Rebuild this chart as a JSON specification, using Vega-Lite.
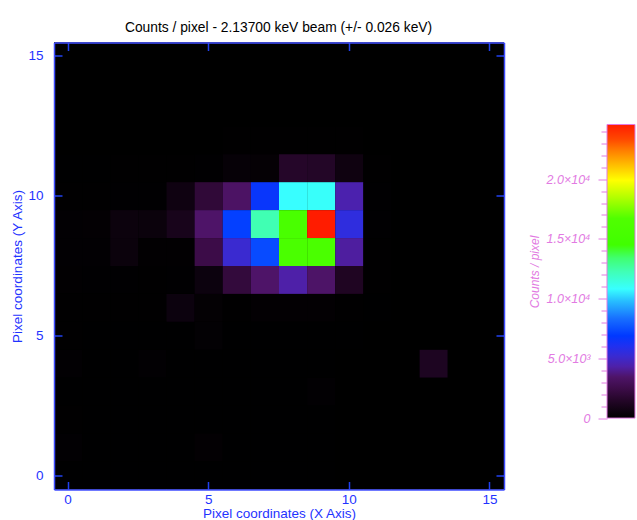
{
  "$schema": "https://vega.github.io/schema/vega-lite/v6.json",
  "background": "white",
  "padding": {"left": 10, "top": 20.5, "right": 2, "bottom": 0},
  "title": {"text": "Counts / pixel - 2.13700 keV beam (+/- 0.026 keV)", "font": "Liberation Sans", "fontSize": 13.8, "fontWeight": "normal", "color": "#000000", "anchor": "start", "dx": 114, "offset": 7},
  "spacing": 23,
  "datasets": {
    "cells": [
      {"x":0,"y":15,"v":0},{"x":1,"y":15,"v":0},{"x":2,"y":15,"v":0},{"x":3,"y":15,"v":0},{"x":4,"y":15,"v":0},{"x":5,"y":15,"v":0},{"x":6,"y":15,"v":0},{"x":7,"y":15,"v":0},{"x":8,"y":15,"v":0},{"x":9,"y":15,"v":0},{"x":10,"y":15,"v":0},{"x":11,"y":15,"v":0},{"x":12,"y":15,"v":0},{"x":13,"y":15,"v":0},{"x":14,"y":15,"v":0},{"x":15,"y":15,"v":0},
      {"x":0,"y":14,"v":0},{"x":1,"y":14,"v":0},{"x":2,"y":14,"v":0},{"x":3,"y":14,"v":0},{"x":4,"y":14,"v":0},{"x":5,"y":14,"v":0},{"x":6,"y":14,"v":0},{"x":7,"y":14,"v":0},{"x":8,"y":14,"v":0},{"x":9,"y":14,"v":0},{"x":10,"y":14,"v":0},{"x":11,"y":14,"v":0},{"x":12,"y":14,"v":0},{"x":13,"y":14,"v":0},{"x":14,"y":14,"v":0},{"x":15,"y":14,"v":0},
      {"x":0,"y":13,"v":0},{"x":1,"y":13,"v":0},{"x":2,"y":13,"v":0},{"x":3,"y":13,"v":0},{"x":4,"y":13,"v":0},{"x":5,"y":13,"v":0},{"x":6,"y":13,"v":0},{"x":7,"y":13,"v":0},{"x":8,"y":13,"v":0},{"x":9,"y":13,"v":0},{"x":10,"y":13,"v":0},{"x":11,"y":13,"v":0},{"x":12,"y":13,"v":0},{"x":13,"y":13,"v":0},{"x":14,"y":13,"v":0},{"x":15,"y":13,"v":0},
      {"x":0,"y":12,"v":0},{"x":1,"y":12,"v":0},{"x":2,"y":12,"v":0},{"x":3,"y":12,"v":0},{"x":4,"y":12,"v":0},{"x":5,"y":12,"v":0},{"x":6,"y":12,"v":30},{"x":7,"y":12,"v":30},{"x":8,"y":12,"v":40},{"x":9,"y":12,"v":40},{"x":10,"y":12,"v":30},{"x":11,"y":12,"v":0},{"x":12,"y":12,"v":0},{"x":13,"y":12,"v":0},{"x":14,"y":12,"v":0},{"x":15,"y":12,"v":0},
      {"x":0,"y":11,"v":20},{"x":1,"y":11,"v":20},{"x":2,"y":11,"v":30},{"x":3,"y":11,"v":30},{"x":4,"y":11,"v":40},{"x":5,"y":11,"v":60},{"x":6,"y":11,"v":250},{"x":7,"y":11,"v":200},{"x":8,"y":11,"v":1500},{"x":9,"y":11,"v":1450},{"x":10,"y":11,"v":600},{"x":11,"y":11,"v":30},{"x":12,"y":11,"v":0},{"x":13,"y":11,"v":0},{"x":14,"y":11,"v":0},{"x":15,"y":11,"v":0},
      {"x":0,"y":10,"v":40},{"x":1,"y":10,"v":40},{"x":2,"y":10,"v":60},{"x":3,"y":10,"v":60},{"x":4,"y":10,"v":610},{"x":5,"y":10,"v":1970},{"x":6,"y":10,"v":3320},{"x":7,"y":10,"v":6630},{"x":8,"y":10,"v":10800},{"x":9,"y":10,"v":10900},{"x":10,"y":10,"v":4420},{"x":11,"y":10,"v":60},{"x":12,"y":10,"v":0},{"x":13,"y":10,"v":0},{"x":14,"y":10,"v":0},{"x":15,"y":10,"v":0},
      {"x":0,"y":9,"v":100},{"x":1,"y":9,"v":110},{"x":2,"y":9,"v":480},{"x":3,"y":9,"v":450},{"x":4,"y":9,"v":1000},{"x":5,"y":9,"v":3440},{"x":6,"y":9,"v":7100},{"x":7,"y":9,"v":12300},{"x":8,"y":9,"v":15800},{"x":9,"y":9,"v":24570},{"x":10,"y":9,"v":5530},{"x":11,"y":9,"v":60},{"x":12,"y":9,"v":0},{"x":13,"y":9,"v":0},{"x":14,"y":9,"v":0},{"x":15,"y":9,"v":0},
      {"x":0,"y":8,"v":100},{"x":1,"y":8,"v":100},{"x":2,"y":8,"v":450},{"x":3,"y":8,"v":80},{"x":4,"y":8,"v":80},{"x":5,"y":8,"v":2460},{"x":6,"y":8,"v":5160},{"x":7,"y":8,"v":7370},{"x":8,"y":8,"v":15900},{"x":9,"y":8,"v":15850},{"x":10,"y":8,"v":4180},{"x":11,"y":8,"v":50},{"x":12,"y":8,"v":0},{"x":13,"y":8,"v":0},{"x":14,"y":8,"v":0},{"x":15,"y":8,"v":0},
      {"x":0,"y":7,"v":70},{"x":1,"y":7,"v":60},{"x":2,"y":7,"v":60},{"x":3,"y":7,"v":50},{"x":4,"y":7,"v":60},{"x":5,"y":7,"v":500},{"x":6,"y":7,"v":2090},{"x":7,"y":7,"v":3440},{"x":8,"y":7,"v":4300},{"x":9,"y":7,"v":3400},{"x":10,"y":7,"v":1250},{"x":11,"y":7,"v":40},{"x":12,"y":7,"v":0},{"x":13,"y":7,"v":0},{"x":14,"y":7,"v":0},{"x":15,"y":7,"v":0},
      {"x":0,"y":6,"v":30},{"x":1,"y":6,"v":30},{"x":2,"y":6,"v":30},{"x":3,"y":6,"v":30},{"x":4,"y":6,"v":500},{"x":5,"y":6,"v":150},{"x":6,"y":6,"v":40},{"x":7,"y":6,"v":120},{"x":8,"y":6,"v":120},{"x":9,"y":6,"v":120},{"x":10,"y":6,"v":40},{"x":11,"y":6,"v":20},{"x":12,"y":6,"v":0},{"x":13,"y":6,"v":0},{"x":14,"y":6,"v":0},{"x":15,"y":6,"v":0},
      {"x":0,"y":5,"v":30},{"x":1,"y":5,"v":20},{"x":2,"y":5,"v":20},{"x":3,"y":5,"v":20},{"x":4,"y":5,"v":20},{"x":5,"y":5,"v":130},{"x":6,"y":5,"v":20},{"x":7,"y":5,"v":20},{"x":8,"y":5,"v":20},{"x":9,"y":5,"v":20},{"x":10,"y":5,"v":20},{"x":11,"y":5,"v":0},{"x":12,"y":5,"v":0},{"x":13,"y":5,"v":0},{"x":14,"y":5,"v":0},{"x":15,"y":5,"v":0},
      {"x":0,"y":4,"v":100},{"x":1,"y":4,"v":20},{"x":2,"y":4,"v":20},{"x":3,"y":4,"v":100},{"x":4,"y":4,"v":20},{"x":5,"y":4,"v":20},{"x":6,"y":4,"v":20},{"x":7,"y":4,"v":20},{"x":8,"y":4,"v":20},{"x":9,"y":4,"v":20},{"x":10,"y":4,"v":0},{"x":11,"y":4,"v":0},{"x":12,"y":4,"v":0},{"x":13,"y":4,"v":1200},{"x":14,"y":4,"v":0},{"x":15,"y":4,"v":0},
      {"x":0,"y":3,"v":20},{"x":1,"y":3,"v":20},{"x":2,"y":3,"v":20},{"x":3,"y":3,"v":20},{"x":4,"y":3,"v":20},{"x":5,"y":3,"v":20},{"x":6,"y":3,"v":20},{"x":7,"y":3,"v":20},{"x":8,"y":3,"v":20},{"x":9,"y":3,"v":100},{"x":10,"y":3,"v":0},{"x":11,"y":3,"v":0},{"x":12,"y":3,"v":0},{"x":13,"y":3,"v":0},{"x":14,"y":3,"v":0},{"x":15,"y":3,"v":0},
      {"x":0,"y":2,"v":30},{"x":1,"y":2,"v":20},{"x":2,"y":2,"v":20},{"x":3,"y":2,"v":20},{"x":4,"y":2,"v":20},{"x":5,"y":2,"v":20},{"x":6,"y":2,"v":20},{"x":7,"y":2,"v":20},{"x":8,"y":2,"v":20},{"x":9,"y":2,"v":20},{"x":10,"y":2,"v":0},{"x":11,"y":2,"v":0},{"x":12,"y":2,"v":0},{"x":13,"y":2,"v":0},{"x":14,"y":2,"v":0},{"x":15,"y":2,"v":0},
      {"x":0,"y":1,"v":100},{"x":1,"y":1,"v":20},{"x":2,"y":1,"v":20},{"x":3,"y":1,"v":20},{"x":4,"y":1,"v":20},{"x":5,"y":1,"v":120},{"x":6,"y":1,"v":20},{"x":7,"y":1,"v":20},{"x":8,"y":1,"v":20},{"x":9,"y":1,"v":20},{"x":10,"y":1,"v":0},{"x":11,"y":1,"v":0},{"x":12,"y":1,"v":0},{"x":13,"y":1,"v":0},{"x":14,"y":1,"v":0},{"x":15,"y":1,"v":0},
      {"x":0,"y":0,"v":20},{"x":1,"y":0,"v":20},{"x":2,"y":0,"v":20},{"x":3,"y":0,"v":20},{"x":4,"y":0,"v":20},{"x":5,"y":0,"v":20},{"x":6,"y":0,"v":20},{"x":7,"y":0,"v":20},{"x":8,"y":0,"v":20},{"x":9,"y":0,"v":20},{"x":10,"y":0,"v":0},{"x":11,"y":0,"v":0},{"x":12,"y":0,"v":0},{"x":13,"y":0,"v":0},{"x":14,"y":0,"v":0},{"x":15,"y":0,"v":0}
    ],
    "bar": [{"lo": 0, "hi": 24570}]
  },
  "hconcat": [
    {
      "width": 450,
      "height": 447,
      "view": {"fill": "#000000", "stroke": null},
      "data": {"name": "cells"},
      "layer": [
        {
          "mark": {"type": "rect"},
          "encoding": {
            "x": {"field": "x", "type": "ordinal",
              "scale": {"domain": [0,1,2,3,4,5,6,7,8,9,10,11,12,13,14,15], "paddingInner": 0, "paddingOuter": 0},
              "axis": {"orient": "bottom", "zindex": 2, "values": [0,5,10,15], "title": "Pixel coordinates (X Axis)", "labelPadding": 11, "titlePadding": 0.5}},
            "y": {"field": "y", "type": "ordinal",
              "scale": {"domain": [15,14,13,12,11,10,9,8,7,6,5,4,3,2,1,0], "paddingInner": 0, "paddingOuter": 0},
              "axis": {"orient": "left", "zindex": 2, "values": [0,5,10,15], "title": "Pixel coordinates (Y Axis)", "labelPadding": 19, "titlePadding": 3}},
            "color": {"field": "v", "type": "quantitative",
              "scale": {"domain": [0,1474,2457,3440,4300,5160,6020,6880,8354,9828,10811,12285,13391,14496,16708,18428,19902,21130,22359,23342,24570],
                        "range": ["#000000","#240628","#3c0c48","#4e1468","#4e20a8","#3a2ad0","#2030f0","#0038ff","#1870ff","#28c0ff","#38ffff","#40ffb4","#40ff70","#40ff00","#50ff00","#b0ff00","#ffff00","#ffc000","#ff8000","#ff4800","#ff1c00"],
                        "interpolate": "rgb"},
              "legend": null}
          }
        },
        {
          "mark": {"type": "rect", "opacity": 0},
          "encoding": {
            "x": {"field": "x", "type": "ordinal",
              "scale": {"domain": [0,1,2,3,4,5,6,7,8,9,10,11,12,13,14,15], "paddingInner": 0, "paddingOuter": 0},
              "axis": {"orient": "top", "zindex": 2, "values": [0,5,10,15], "labels": false, "title": null}},
            "y": {"field": "y", "type": "ordinal",
              "scale": {"domain": [15,14,13,12,11,10,9,8,7,6,5,4,3,2,1,0], "paddingInner": 0, "paddingOuter": 0},
              "axis": {"orient": "right", "zindex": 2, "values": [0,5,10,15], "labels": false, "title": null}}
          }
        }
      ],
      "resolve": {"axis": {"x": "independent", "y": "independent"}}
    },
    {
      "width": 28,
      "height": 447,
      "view": {"stroke": null},
      "data": {"name": "bar"},
      "mark": {"type": "rect", "stroke": "#e27ae2", "strokeWidth": 1,
        "fill": {"gradient": "linear", "x1": 0, "y1": 1, "x2": 0, "y2": 0,
          "stops": [
            {"offset": 0, "color": "#000000"},
            {"offset": 0.06, "color": "#240628"},
            {"offset": 0.10, "color": "#3c0c48"},
            {"offset": 0.14, "color": "#4e1468"},
            {"offset": 0.175, "color": "#4e20a8"},
            {"offset": 0.21, "color": "#3a2ad0"},
            {"offset": 0.245, "color": "#2030f0"},
            {"offset": 0.28, "color": "#0038ff"},
            {"offset": 0.34, "color": "#1870ff"},
            {"offset": 0.40, "color": "#28c0ff"},
            {"offset": 0.44, "color": "#38ffff"},
            {"offset": 0.50, "color": "#40ffb4"},
            {"offset": 0.545, "color": "#40ff70"},
            {"offset": 0.59, "color": "#40ff00"},
            {"offset": 0.68, "color": "#50ff00"},
            {"offset": 0.75, "color": "#b0ff00"},
            {"offset": 0.81, "color": "#ffff00"},
            {"offset": 0.86, "color": "#ffc000"},
            {"offset": 0.91, "color": "#ff8000"},
            {"offset": 0.95, "color": "#ff4800"},
            {"offset": 1, "color": "#ff1c00"}
          ]}},
      "encoding": {
        "y": {"field": "lo", "type": "quantitative",
          "scale": {"domain": [-5975, 31432], "nice": false, "zero": false},
          "axis": {
            "orient": "left",
            "values": [0,1000,2000,3000,4000,5000,6000,7000,8000,9000,10000,11000,12000,13000,14000,15000,16000,17000,18000,19000,20000,21000,22000,23000,24000],
            "labelExpr": "datum.value == 0 ? '0' : datum.value == 5000 ? '5.0×10³' : datum.value % 5000 == 0 ? format(datum.value / 10000, '.1f') + '×10⁴' : ''",
            "labelOverlap": false,
            "labelBound": false,
            "labelFlush": false,
            "domain": false,
            "ticks": true,
            "tickSize": {"condition": {"test": "datum.value % 5000 === 0", "value": 9}, "value": 6},
            "tickColor": "#e27ae2",
            "tickWidth": 1,
            "labelColor": "#e27ae2",
            "labelFontStyle": "italic",
            "labelFontSize": 12.5,
            "labelPadding": 8,
            "title": "Counts / pixel",
            "titleColor": "#e27ae2",
            "titleFontStyle": "italic",
            "titleFontSize": 12,
            "titleFontWeight": "normal",
            "titlePadding": 5,
            "titleY": 229
          }},
        "y2": {"field": "hi"}
      }
    }
  ],
  "config": {
    "font": "Liberation Sans",
    "axis": {
      "domainColor": "#3f4cff",
      "domainWidth": 1.5,
      "tickColor": "#2040f0",
      "tickWidth": 1.5,
      "tickSize": -8,
      "labelColor": "#1f33ff",
      "labelFont": "Liberation Sans",
      "labelFontSize": 13.5,
      "labelAngle": 0,
      "titleColor": "#1f33ff",
      "titleFont": "Liberation Sans",
      "titleFontSize": 13.5,
      "titleFontWeight": "normal",
      "grid": false
    }
  }
}
